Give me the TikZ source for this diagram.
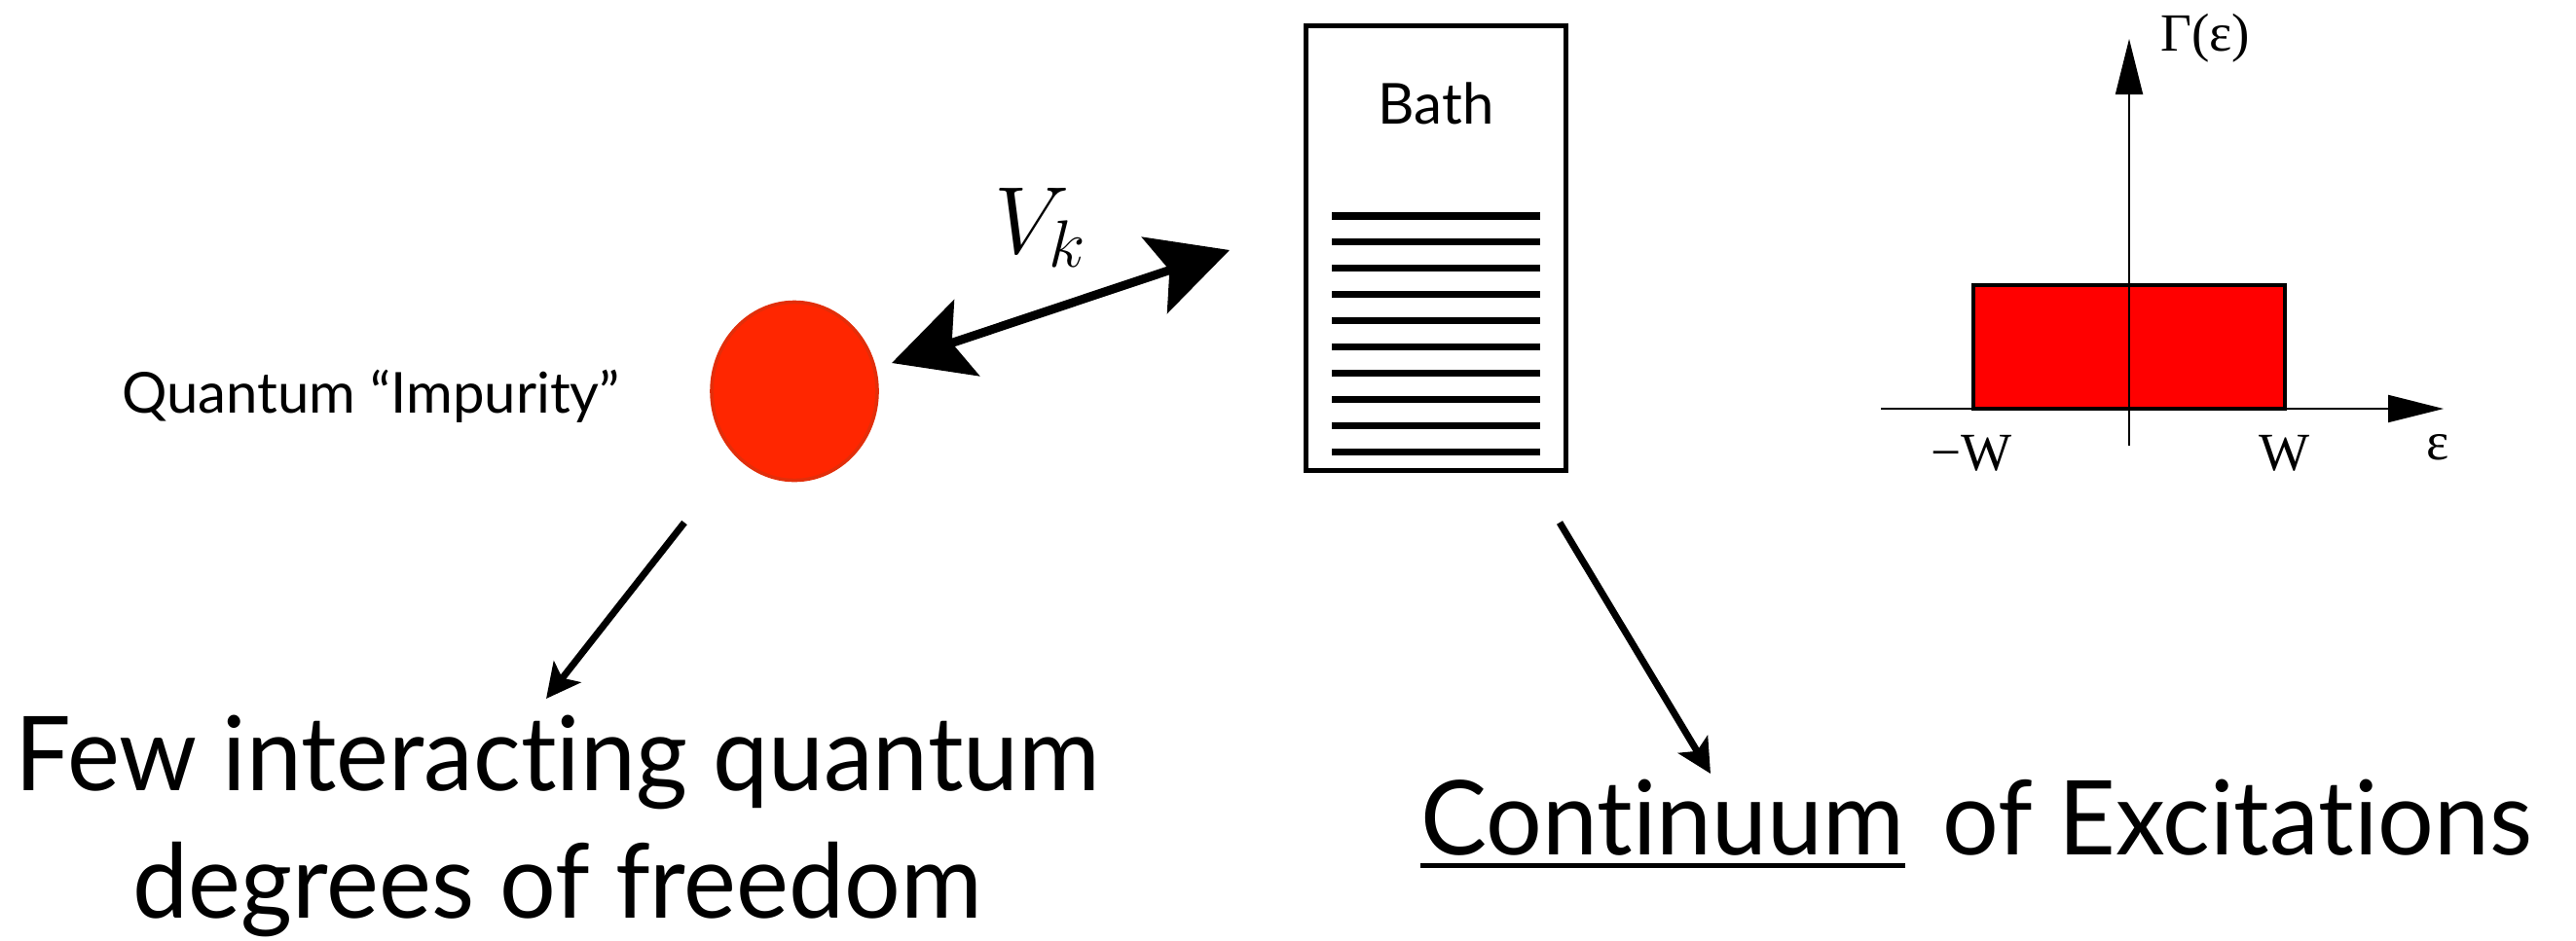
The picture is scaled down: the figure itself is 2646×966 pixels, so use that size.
\RequirePackage{fix-cm}
\documentclass[tikz,border=0pt]{standalone}
\usepackage{fontspec}
\setmainfont{Lato}[Ligatures=NoCommon]
\newfontfamily\bigfont{Lato}[Ligatures=NoCommon, FakeStretch=0.96]
\newfontfamily\plotfont{Liberation Serif}
\usetikzlibrary{arrows.meta,shapes.geometric}
\definecolor{impred}{RGB}{255,38,0}
\definecolor{impedge}{RGB}{226,46,10}
\definecolor{bandred}{RGB}{255,0,0}
\tikzset{
  bigtext/.style={font=\bigfont\fontsize{30.2}{37}\selectfont, inner sep=0},
  smalltext/.style={font=\fontsize{16.5}{19}\selectfont, inner sep=0},
  axislabel/.style={font=\plotfont\fontsize{15.7}{18}\selectfont, inner sep=0},
  pointer/.style={line width=2pt, -{Stealth[length=0.35cm,width=0.35cm,inset=0.08cm]}},
  couplehead/.tip={Stealth[length=0.81cm,width=0.82cm,inset=0.16cm]},
  coupling/.style={line width=2.56pt, couplehead-couplehead},
  axis/.style={line width=0.57pt, -{Triangle[length=0.57cm,width=0.28cm]}},
  level/.style={line width=2pt}
}
\begin{document}
\begin{tikzpicture}[x=0.01cm, y=-0.01cm]
  \useasboundingbox (0,0) rectangle (2646,966);
  % impurity
  \node[ellipse, fill=impred, draw=impedge, line width=1pt, minimum width=1.7cm,
        minimum height=1.83cm, inner sep=0] (imp) at (816,402) {};
  \node[smalltext, anchor=base] (implabel) at (381,424) {Quantum “Impurity”};
  % bath
  \node[draw, line width=1.42pt, minimum width=2.67cm, minimum height=4.57cm,
        inner sep=0] (bath) at (1475,255) {};
  \node[smalltext, anchor=base] (bathlabel) at (1475,127) {Bath};
  \foreach \k in {0,...,9}
    \draw[level] (1368,222+26.9*\k) -- (1582,222+26.9*\k);
  % hybridisation
  \coordinate (vkL) at (916,373);
  \coordinate (vkR) at (1263,257);
  \draw[coupling] (vkL) -- (vkR);
  \node[anchor=base west, inner sep=0, font=\fontsize{27.9}{30}\selectfont] (vk) at (1021,260) {$V_k$};
  % pointers
  \coordinate (impfoot) at (703,537);
  \coordinate (fewtip) at (561,718);
  \coordinate (bathfoot) at (1602,537);
  \coordinate (conttip) at (1757,795);
  \draw[pointer] (impfoot) -- (fewtip);
  \draw[pointer] (bathfoot) -- (conttip);
  \node[bigtext, anchor=base, align=center] (few) at (573,943) {Few interacting quantum\\degrees of freedom};
  \node[bigtext, anchor=base west] (cont) at (1459,878) {Continuum};
  \node[bigtext, anchor=base west] (excit) at ([xshift=0.38cm]cont.base east) {of Excitations};
  \draw[line width=1.42pt] ([yshift=-0.115cm]cont.base west) -- ([yshift=-0.115cm]cont.base east);
  % flat band
  \draw[line width=1pt, fill=bandred] (2027,293) rectangle (2347,420);
  \draw[axis] (1932,420) -- (2510,420);
  \draw[axis] (2187,458) -- (2187,40);
  \node[axislabel, anchor=base] (gam) at (2265,52) {Γ(ε)};
  \node[axislabel, anchor=base] (wlo) at (2025,483) {−W};
  \node[axislabel, anchor=base] (whi) at (2347,483) {W};
  \node[axislabel, anchor=base] (eps) at (2504,472) {ε};
\end{tikzpicture}
\end{document}
